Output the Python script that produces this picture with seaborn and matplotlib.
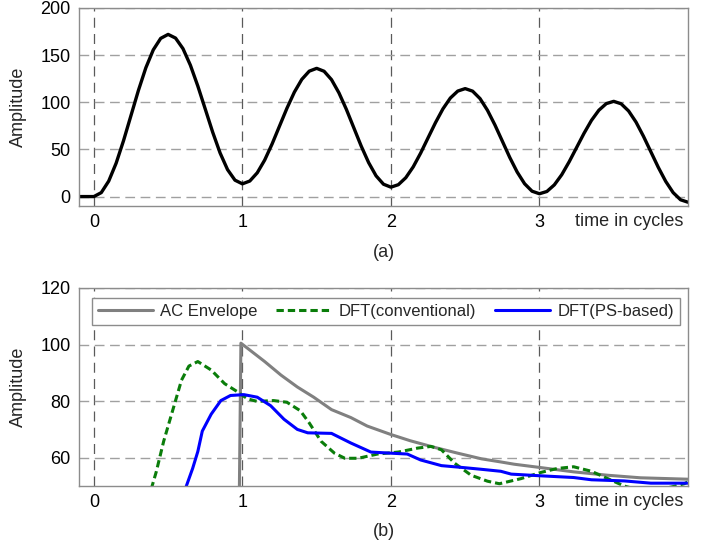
import numpy as np
import pandas as pd
import matplotlib
matplotlib.use("Agg")
import matplotlib.pyplot as plt
import seaborn as sns

# (a) fault current, read every 0.05 cycle from t = -0.1 to 4.0
time_a = np.round(np.arange(-0.1, 4.0001, 0.05), 2)
current_a = [
    0, 0,
    0, 4.2, 16.4, 35.4, 59.4, 86, 112.6, 136.6, 155.6, 167.8,
    172, 168.1, 156.9, 139.3, 117.2, 92.8, 68.3, 46.2, 28.6, 17.4,
    13.5, 16.5, 25.2, 38.7, 55.8, 74.8, 93.7, 110.8, 124.3, 133.0,
    136, 132.9, 124.0, 110.0, 92.5, 73, 53.5, 36.0, 22.0, 13.1,
    10, 12.6, 20.0, 31.5, 46.1, 62.3, 78.4, 93.0, 104.5, 111.9,
    114.5, 111.8, 103.9, 91.5, 76.0, 58.8, 41.5, 26.0, 13.6, 5.7,
    3, 5.4, 12.4, 23.2, 36.9, 52, 67.1, 80.8, 91.6, 98.6,
    101, 98.4, 90.8, 79.0, 64.0, 47.5, 31.0, 16.1, 4.2, -3.4,
    -6,
]

# (b) amplitude estimates
env_t = [0.97, 0.99, 1.15, 1.26, 1.37, 1.48, 1.60, 1.73, 1.84, 2.0, 2.13,
         2.29, 2.45, 2.61, 2.74, 2.83, 3.01, 3.23, 3.46, 3.68, 4.0]
env_v = [0, 100.5, 94, 89.2, 85, 81.4, 77, 74.2, 71.2, 68.2, 66,
         63.7, 61.6, 59.6, 58.5, 57.7, 56.5, 55, 53.8, 52.9, 52.4]

conv_t = [0.37, 0.39, 0.42, 0.47, 0.53, 0.59, 0.64, 0.70, 0.79, 0.88, 0.97,
          1.035, 1.10, 1.21, 1.30, 1.39, 1.45, 1.53, 1.62, 1.69, 1.78, 1.91,
          2.05, 2.18, 2.27, 2.34, 2.43, 2.54, 2.65, 2.73, 2.875, 3.01, 3.12,
          3.23, 3.35, 3.46, 3.57, 3.64, 3.80, 3.885, 3.975, 4.0]
conv_v = [45, 49.6, 55, 65.8, 76.6, 87.4, 92.4, 94, 91, 86.2, 83.2,
          80.8, 79.9, 80.2, 79.6, 76.6, 72.3, 65.8, 61.6, 59.8, 59.8, 61.3,
          62.0, 63.4, 64.0, 62.8, 58.0, 53.8, 51.7, 50.8, 52.6, 54.8, 56.2,
          56.8, 55.2, 52.6, 50, 49, 49, 49.6, 50.8, 51.5]

ps_t = [0.60, 0.62, 0.665, 0.70, 0.73, 0.79, 0.855, 0.92, 1.01, 1.10, 1.19,
        1.28, 1.37, 1.44, 1.60, 1.73, 1.865, 2.0, 2.11, 2.20, 2.34, 2.47,
        2.61, 2.74, 2.81, 3.01, 3.23, 3.35, 3.57, 3.75, 4.0]
ps_v = [45, 49.6, 56.2, 62.2, 69.4, 75.4, 80.2, 82, 82.3, 81.4, 78.4,
        73.6, 70, 68.8, 68.6, 65.2, 62, 61.6, 61.3, 59.2, 57.2, 56.6,
        55.9, 55.2, 54.2, 53.6, 53, 52.2, 51.8, 51, 51]

x_ticks = [0, 1, 2, 3]
y_ticks_a = [0, 50, 100, 150, 200]
y_ticks_b = [60, 80, 100, 120]

XGRID = "#5a5a5a"
YGRID = "#a0a0a0"
FRAME = "#8c8c8c"
FS = 13


def style_axes(ax, ylim, yticks):
    ax.set_xlim(-0.1, 4.0)
    ax.set_ylim(*ylim)
    ax.set_xticks(x_ticks)
    ax.set_yticks(yticks)
    ax.grid(True, axis="x", color=XGRID, linestyle=(0, (8, 5)), linewidth=0.9)
    ax.grid(True, axis="y", color=YGRID, linestyle=(0, (7, 4)), linewidth=1.0)
    ax.set_axisbelow(True)
    for sp in ax.spines.values():
        sp.set_visible(True)
        sp.set_color(FRAME)
        sp.set_linewidth(1.0)
    ax.tick_params(length=0, labelsize=FS, pad=6, colors="black")
    ax.set_xlabel("")
    ax.set_ylabel("Amplitude", fontsize=FS)
    ax.yaxis.set_label_coords(-0.085, 0.5)
    ax.text(0.992, -0.08, "time in cycles", transform=ax.transAxes,
            ha="right", va="center", fontsize=FS)


def main():
    sns.set_style("white")
    plt.rcParams["font.family"] = ["Liberation Sans", "DejaVu Sans"]

    fig = plt.figure(figsize=(7.08, 5.46), dpi=100)
    ax1 = fig.add_axes([79 / 708, 1 - 206 / 546, 609 / 708, 198 / 546])
    ax2 = fig.add_axes([79 / 708, 1 - 486 / 546, 609 / 708, 198 / 546])

    # (a)
    df_a = pd.DataFrame({"t": time_a, "i": current_a})
    sns.lineplot(data=df_a, x="t", y="i", ax=ax1, color="black",
                 linewidth=2.4, estimator=None)
    style_axes(ax1, (-10, 200), y_ticks_a)
    ax1.text(0.5, -0.237, "(a)", transform=ax1.transAxes,
             ha="center", va="center", fontsize=FS)

    # (b)
    sns.lineplot(x=env_t, y=env_v, ax=ax2, color="#808080", linewidth=2.2,
                 estimator=None, label="AC Envelope")
    sns.lineplot(x=conv_t, y=conv_v, ax=ax2, color="#0a7d0a", linewidth=2.2,
                 estimator=None, label="DFT(conventional)", linestyle="--")
    ax2.lines[-1].set_dashes((2.4, 1.3))
    sns.lineplot(x=ps_t, y=ps_v, ax=ax2, color="#0000ff", linewidth=2.2,
                 estimator=None, label="DFT(PS-based)")
    style_axes(ax2, (50, 120), y_ticks_b)
    ax2.text(0.5, -0.231, "(b)", transform=ax2.transAxes,
             ha="center", va="center", fontsize=FS)

    leg = ax2.legend(loc="upper left", bbox_to_anchor=(0.021, 0, 0.966, 0.949),
                     mode="expand", ncol=3, fontsize=12, frameon=True,
                     fancybox=False, framealpha=1, borderaxespad=0,
                     handlelength=3.3, handletextpad=0.45, borderpad=0.35)
    leg.get_frame().set_edgecolor(FRAME)
    leg.get_frame().set_linewidth(1.0)

    fig.savefig("out.png", dpi=100)
    plt.close(fig)


if __name__ == "__main__":
    main()
